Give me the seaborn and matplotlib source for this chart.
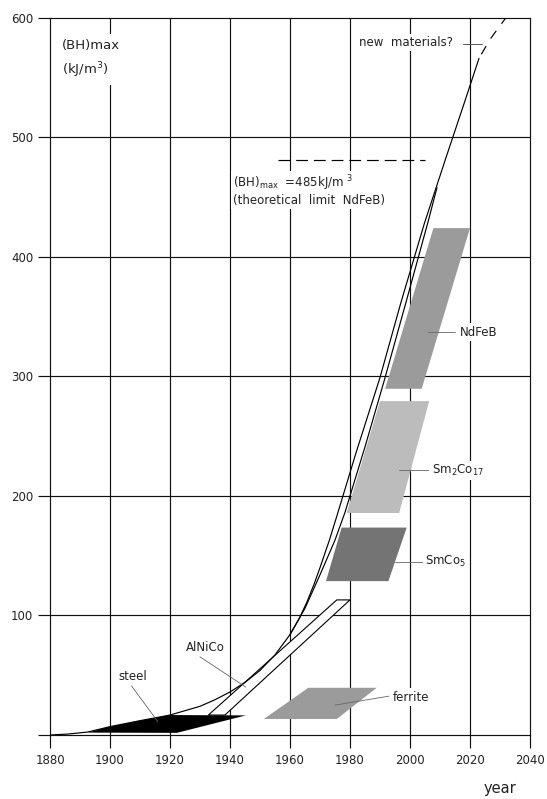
import matplotlib
matplotlib.use("Agg")
import matplotlib.pyplot as plt
import numpy as np
import pandas as pd
import seaborn as sns

# ---------------- data ----------------
x_ticks = [1880, 1900, 1920, 1940, 1960, 1980, 2000, 2020, 2040]
y_ticks = [0, 100, 200, 300, 400, 500, 600]
y_tick_labels = ["", "100", "200", "300", "400", "500", "600"]

# envelope curve (BH)max development
curve_year = [1880, 1886, 1892.6, 1900, 1910, 1920, 1930, 1935, 1940, 1945, 1950,
              1955, 1960, 1963, 1965.6, 1968, 1970, 1973, 1975.6, 1982, 1990,
              1997, 2004.8, 2012, 2018, 2023]
curve_val = [0, 0.8, 2.5, 7, 12, 16.7, 24, 29.5, 36, 44, 54,
             67, 84, 97, 111, 126, 140, 162, 183, 236, 299,
             362, 428, 483, 528, 566]

# second (inner) curve
inner_year = [1960, 1965, 1970, 1975, 1978.3, 1985, 1991.7, 1999, 2006.1, 2009]
inner_val = [84, 106, 134, 163, 186, 241, 299, 365, 430, 458]

# extrapolation "new materials?"
future_year = [2023, 2026.7, 2031.7]
future_val = [566, 582, 599]

# theoretical limit
limit_year = [1956.1, 2005]
limit_val = [481, 481]

# material regions (polygons)
steel_year = [1892.6, 1900, 1910, 1920, 1945.3, 1922.3]
steel_val = [2.0, 7, 12, 16.7, 16.4, 1.8]

alnico_year = [1932.8, 1938.3, 1980, 1975.6]
alnico_val = [16.7, 16.7, 113, 113]

ferrite_year = [1951.3, 1966.1, 1988.9, 1975.6]
ferrite_val = [13.4, 39.5, 39.5, 13.4]

smco5_year = [1972, 1977.2, 1998.9, 1992.8]
smco5_val = [128.7, 173.5, 173.5, 128.7]

sm2co17_year = [1978.9, 1990, 2006.4, 1996.4]
sm2co17_val = [185.7, 279.3, 279.3, 185.7]

ndfeb_year = [1991.7, 2007.8, 2020, 2003.9]
ndfeb_val = [289.6, 424, 424, 289.6]

# labels: text, text anchor (year, val), leader start, leader end
labels = ["NdFeB", "Sm$_2$Co$_{17}$", "SmCo$_5$", "ferrite", "steel", "AlNiCo"]
label_year = [2016.7, 2007.2, 2005.0, 1994.3, 1907.6, 1931.8]
label_val = [337, 221.4, 144.8, 31.7, 49, 73.3]
label_ha = ["left", "left", "left", "left", "center", "center"]
leader_x0 = [2006.1, 1996.4, 1995.0, 1975.0, 1907.2, 1930.0]
leader_y0 = [337, 221.4, 144.8, 25.0, 41, 65.4]
leader_x1 = [2015.0, 2006.7, 2004.4, 1993.0, 1916.0, 1945.3]
leader_y1 = [337, 221.4, 144.8, 32.5, 11, 40.0]

# ---------------- figure ----------------
sns.set_theme(style="white")
plt.rcParams['font.family'] = ['DejaVu Sans']
plt.rcParams['mathtext.fontset'] = 'dejavusans'

fig = plt.figure(figsize=(5.47, 7.99), dpi=100)
ax = fig.add_axes([50 / 547, 1 - 735 / 799, 480 / 547, 717.3 / 799])
ax.set_xlim(1880, 2040)
ax.set_ylim(0, 600)

grid_c = "#111111"
for xv in x_ticks[1:-1]:
    ax.axvline(xv, color=grid_c, lw=0.85, zorder=0.5)
for yv in y_ticks[1:-1]:
    ax.axhline(yv, color=grid_c, lw=0.85, zorder=0.5)

for s in ax.spines.values():
    s.set_color(grid_c)
    s.set_linewidth(0.85)
    s.set_visible(True)

ax.set_xticks(x_ticks)
ax.set_yticks(y_ticks)
ax.set_yticklabels(y_tick_labels)
ax.tick_params(axis="both", direction="out", length=9, width=0.85,
               color=grid_c, labelsize=8.5, labelcolor="#222222", pad=3,
               bottom=True, left=True)
ax.tick_params(axis="x", pad=5)

# regions
ax.fill(steel_year, steel_val, color="black", lw=0, zorder=2)
ax.fill(alnico_year, alnico_val, facecolor="white", edgecolor="black", lw=0.8, zorder=2.5)
ax.fill(ferrite_year, ferrite_val, color="#9b9b9b", lw=0, zorder=2)
ax.fill(smco5_year, smco5_val, color="#747474", lw=0, zorder=2)
ax.fill(sm2co17_year, sm2co17_val, color="#bcbcbc", lw=0, zorder=2)
ax.fill(ndfeb_year, ndfeb_val, color="#9b9b9b", lw=0, zorder=2)

# curves
curve_df = pd.DataFrame({"year": curve_year, "val": curve_val})
sns.lineplot(data=curve_df, x="year", y="val", sort=False, color="black",
             lw=0.85, ax=ax, zorder=3)
inner_df = pd.DataFrame({"year": inner_year, "val": inner_val})
sns.lineplot(data=inner_df, x="year", y="val", sort=False, color="black",
             lw=0.85, ax=ax, zorder=3)
future_df = pd.DataFrame({"year": future_year, "val": future_val})
sns.lineplot(data=future_df, x="year", y="val", sort=False, color="black",
             lw=0.85, ax=ax, zorder=3, linestyle=(11.5, (8.0, 7.5)))
limit_df = pd.DataFrame({"year": limit_year, "val": limit_val})
sns.lineplot(data=limit_df, x="year", y="val", sort=False, color="black",
             lw=0.85, ax=ax, zorder=3, linestyle=(0, (10.0, 5.0)))

ax.set_xlabel("")
ax.set_ylabel("")

bbox = dict(facecolor="white", edgecolor="none", pad=1.5)

# leaders & labels
for t, lx, ly, ha, x0, y0, x1, y1 in zip(labels, label_year, label_val, label_ha,
                                         leader_x0, leader_y0, leader_x1, leader_y1):
    ax.plot([x0, x1], [y0, y1], color="#666666", lw=0.6, zorder=3.5)
    ax.text(lx, ly, t, ha=ha, va="center", fontsize=8.5, color="#222222",
            bbox=bbox, zorder=4)

# new materials
ax.plot([2017.8, 2023.9], [578, 578], color="#555555", lw=0.7, zorder=3.5)
ax.text(2014.2, 579, "new  materials?", ha="right", va="center", fontsize=8.5,
        color="#222222", bbox=bbox, zorder=4)

# theoretical limit text
ax.text(1940.9, 461.7, r"(BH)$_{\rm max}$  =485kJ/m $^{3}$", ha="left", va="center",
        fontsize=8.5, color="#222222", bbox=bbox, zorder=4)
ax.text(1940.9, 447, "(theoretical  limit  NdFeB)", ha="left", va="center",
        fontsize=8.5, color="#222222", bbox=bbox, zorder=4)

# axis titles
ax.text(1883.9, 576.4, "(BH)max", ha="left", va="center", fontsize=9.5,
        color="#222222", bbox=dict(facecolor="white", edgecolor="none", pad=4), zorder=4)
ax.text(1883.9, 556.5, "(kJ/m$^{3}$)", ha="left", va="center", fontsize=9.5,
        color="#222222", bbox=dict(facecolor="white", edgecolor="none", pad=4), zorder=4)
fig.text(500 / 547, 1 - 789 / 799, "year", ha="center", va="center",
         fontsize=10.5, color="#222222")

fig.savefig("out.png", dpi=100)
